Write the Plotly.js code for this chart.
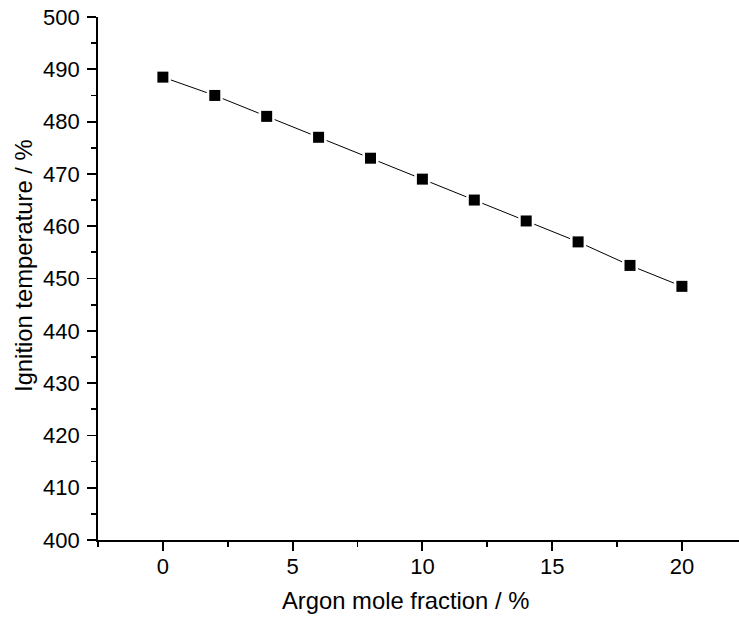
<!DOCTYPE html>
<html>
<head>
<meta charset="utf-8">
<script src="https://cdn.plot.ly/plotly-3.0.1.min.js"></script>
<style>html,body{margin:0;padding:0;background:#fff;}#chart{width:739px;height:621px;}</style>
</head>
<body>
<div id="chart"></div>
<script>
const argonFraction = [0, 2, 4, 6, 8, 10, 12, 14, 16, 18, 20];
const ignitionTemp = [488.5, 485, 481, 477, 473, 469, 465, 461, 457, 452.5, 448.5];
const xTickVals = [0, 5, 10, 15, 20];
const yTickVals = [400, 410, 420, 430, 440, 450, 460, 470, 480, 490, 500];
const xTitle = 'Argon mole fraction / %';
const yTitle = 'Ignition temperature / %';

const FONT = "'Liberation Sans', Arial, sans-serif";

const traces = [
  {x: argonFraction, y: ignitionTemp, mode: 'lines', type: 'scatter',
   line: {color: '#000', width: 1}, hoverinfo: 'skip', showlegend: false},
  {x: argonFraction, y: ignitionTemp, mode: 'markers', type: 'scatter',
   marker: {symbol: 'square', size: 16, color: '#fff'}, hoverinfo: 'skip', showlegend: false},
  {x: argonFraction, y: ignitionTemp, mode: 'markers', type: 'scatter',
   marker: {symbol: 'square', size: 11, color: '#000'}, showlegend: false}
];

const layout = {
  width: 739, height: 621,
  margin: {l: 98, r: 0, t: 17, b: 81, pad: 0},
  paper_bgcolor: '#fff', plot_bgcolor: '#fff',
  font: {family: FONT, color: '#000'},
  showlegend: false,
  xaxis: {
    range: [-2.5, 22.2],
    tickvals: xTickVals,
    ticks: 'outside', ticklen: 9, tickwidth: 1.8, tickcolor: '#000',
    minor: {dtick: 2.5, tick0: 0, ticks: 'outside', ticklen: 5, tickwidth: 1.8, tickcolor: '#000'},
    showline: true, linecolor: '#000', linewidth: 1.8,
    showgrid: false, zeroline: false,
    tickfont: {size: 22, family: FONT, color: '#000'},
    ticklabelstandoff: -3
  },
  yaxis: {
    range: [400, 500],
    tickvals: yTickVals,
    ticks: 'outside', ticklen: 9, tickwidth: 1.8, tickcolor: '#000',
    minor: {dtick: 5, tick0: 400, ticks: 'outside', ticklen: 5, tickwidth: 1.8, tickcolor: '#000'},
    showline: true, linecolor: '#000', linewidth: 1.8,
    showgrid: false, zeroline: false,
    tickfont: {size: 22, family: FONT, color: '#000'},
    ticklabelstandoff: 3
  },
  annotations: [
    {text: xTitle, xref: 'paper', yref: 'paper', x: 0.48, y: -0.116,
     xanchor: 'center', yanchor: 'middle', showarrow: false,
     font: {size: 23.8, family: FONT, color: '#000'}},
    {text: yTitle, xref: 'paper', yref: 'paper', x: -0.1154, y: 0.524,
     xanchor: 'center', yanchor: 'middle', showarrow: false, textangle: -90,
     font: {size: 23.8, family: FONT, color: '#000'}}
  ]
};

Plotly.newPlot('chart', traces, layout, {displayModeBar: false, staticPlot: true});
</script>
</body>
</html>
